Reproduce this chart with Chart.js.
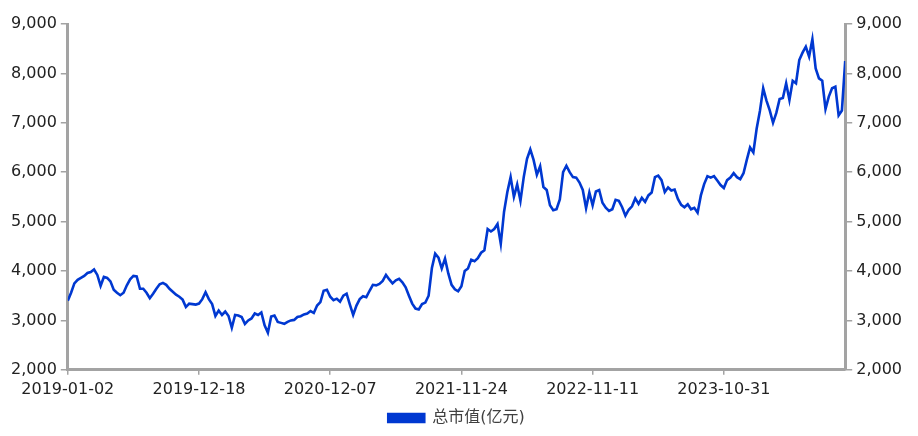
<!DOCTYPE html>
<html>
<head>
<meta charset="utf-8">
<script src="https://cdn.jsdelivr.net/npm/chart.js@4.4.1/dist/chart.umd.min.js"></script>
<style>
  html, body { margin: 0; padding: 0; background: #fff; }
  #wrap { width: 918px; height: 436px; }
</style>
</head>
<body>
<div id="wrap"><canvas id="grafico"></canvas></div>
<script>
// Serie: total market value (亿元), sampled along the trading days
const seriesName = '总市值(亿元)';
const tickLabels = ['2019-01-02', '2019-12-18', '2020-12-07', '2021-11-24', '2022-11-11', '2023-10-31'];
const samplesPerLabel = 40;
const yTicks = { min: 2000, max: 9000, step: 1000 };

const totalValue = [
    3400, 3560, 3750, 3820, 3860, 3900, 3960, 3980, 4030, 3920,
    3700, 3880, 3860, 3790, 3620, 3560, 3510, 3560, 3710, 3830,
    3900, 3890, 3640, 3640, 3560, 3450, 3540, 3640, 3730, 3760,
    3720, 3640, 3580, 3520, 3480, 3420, 3270, 3340, 3330, 3320,
    3340, 3430, 3570, 3430, 3330, 3090, 3200, 3110, 3180, 3090,
    2850, 3110, 3100, 3070, 2930, 3000, 3040, 3140, 3110, 3160,
    2900, 2750, 3080, 3100, 2970, 2950, 2930, 2970, 3000, 3010,
    3070, 3085, 3120, 3140, 3190, 3150, 3300, 3370, 3600, 3620,
    3480, 3410, 3440, 3380, 3500, 3540, 3320, 3110, 3300, 3430,
    3490, 3470, 3600, 3720, 3710, 3740, 3800, 3920, 3830, 3750,
    3810, 3840, 3770, 3670, 3500, 3340, 3240, 3220, 3330, 3360,
    3500, 4060, 4350, 4270, 4050, 4250, 3950, 3720, 3630, 3590,
    3690, 4000, 4050, 4230, 4200, 4260, 4370, 4420, 4850, 4800,
    4850, 4950, 4550, 5200, 5600, 5900, 5500, 5750, 5420, 5900,
    6270, 6460, 6250, 5950, 6120, 5700, 5640, 5330, 5230, 5250,
    5450, 6000, 6130, 6000, 5900, 5890, 5790, 5640, 5270, 5590,
    5330, 5610, 5640, 5380, 5280, 5216, 5250, 5440, 5420, 5290,
    5120, 5240, 5310, 5470, 5360, 5480, 5400, 5530, 5590, 5900,
    5930, 5840, 5600, 5690, 5630, 5650, 5460, 5340, 5290, 5350,
    5250, 5280, 5180, 5530, 5760, 5920, 5890, 5920, 5830, 5740,
    5680, 5840, 5890, 5980, 5900, 5860, 5980, 6250, 6500, 6400,
    6880, 7240, 7700, 7450, 7250, 7000, 7200, 7480, 7500, 7800,
    7460, 7850, 7800, 8270, 8420, 8540, 8340, 8690, 8100, 7900,
    7850, 7280, 7530, 7700, 7730, 7150, 7250, 8250
];

const azul = 'rgb(0, 56, 209)';
const gris = '#a3a3a3';
const fuente = { family: '"DejaVu Sans", "Noto Sans CJK SC", sans-serif', size: 16 };

const puntos = totalValue.map((v, i) => ({ x: i, y: v }));

// Only keep x ticks where a date label exists
function soloEtiquetas(axis) {
    axis.ticks = axis.ticks.filter(t => t.value % samplesPerLabel === 0 && tickLabels[t.value / samplesPerLabel] !== undefined);
}

function ejeY(posicion) {
    return {
        type: 'linear',
        position: posicion,
        min: yTicks.min,
        max: yTicks.max,
        display: true,
        border: { display: true, color: gris, width: 3 },
        grid: { drawOnChartArea: false, drawTicks: true, tickLength: 7, color: gris, lineWidth: 1.5 },
        ticks: {
            stepSize: yTicks.step,
            padding: 4,
            color: '#222',
            font: fuente,
            callback: v => v.toLocaleString('en-US')
        }
    };
}

new Chart(document.getElementById('grafico').getContext('2d'), {
    type: 'line',
    data: {
        datasets: [{
            label: seriesName,
            data: puntos,
            borderColor: azul,
            backgroundColor: azul,
            borderWidth: 2.6,
            pointRadius: 0,
            tension: 0,
            yAxisID: 'y'
        }]
    },
    options: {
        responsive: true,
        maintainAspectRatio: false,
        animation: false,
        layout: { padding: { left: 7, right: 12, top: 24, bottom: 0 } },
        plugins: {
            tooltip: { enabled: false },
            legend: {
                position: 'bottom',
                labels: {
                    boxWidth: 36,
                    boxHeight: 8,
                    color: '#404040',
                    font: fuente,
                    padding: 6
                }
            }
        },
        scales: {
            x: {
                type: 'linear',
                min: 0,
                max: totalValue.length - 1,
                afterBuildTicks: soloEtiquetas,
                border: { display: true, color: gris, width: 3 },
                grid: { drawOnChartArea: false, drawTicks: true, tickLength: 5, color: gris, lineWidth: 1.5 },
                ticks: {
                    stepSize: samplesPerLabel,
                    autoSkip: false,
                    maxRotation: 0,
                    padding: 5,
                    color: '#222',
                    font: fuente,
                    callback: v => tickLabels[v / samplesPerLabel] || ''
                }
            },
            y: ejeY('left'),
            y2: ejeY('right')
        }
    }
});
</script>
</body>
</html>
